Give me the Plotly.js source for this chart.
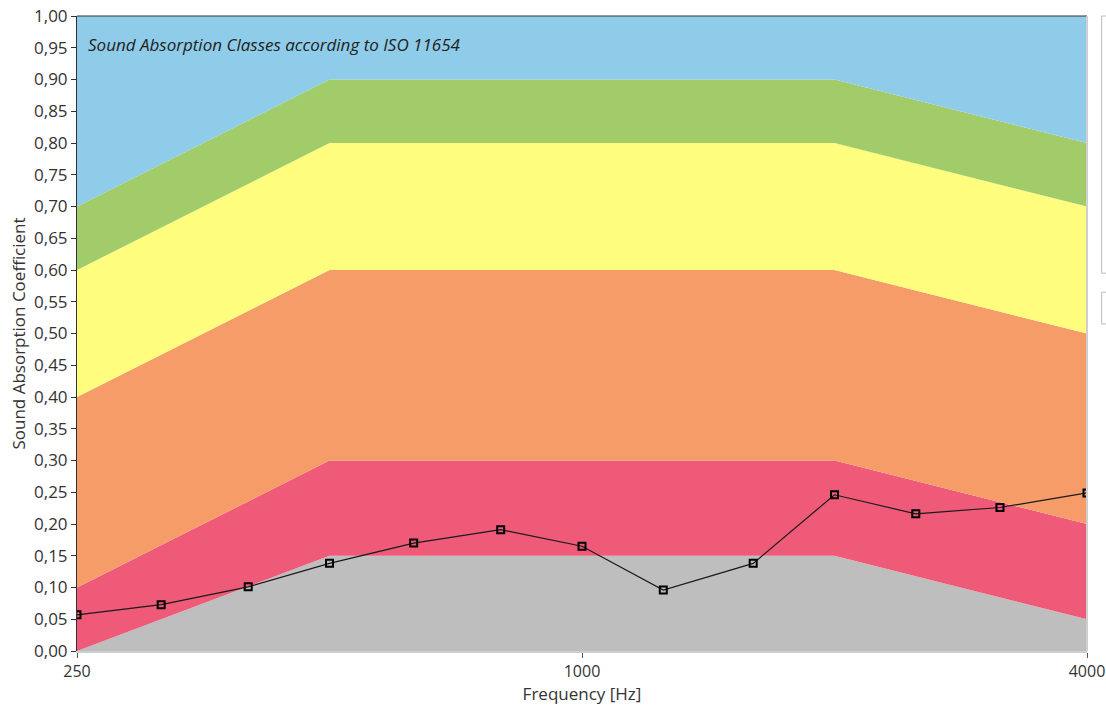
<!DOCTYPE html>
<html>
<head>
<meta charset="utf-8">
<script src="https://cdn.plot.ly/plotly-3.0.1.min.js"></script>
<style>html,body{margin:0;padding:0;background:#fff;}#chart{width:1106px;height:710px;}</style>
</head>
<body>
<div id="chart"></div>
<script>
// Class boundary frequencies (octave bands)
const classFreqs = [250, 500, 1000, 2000, 4000];
// Upper bounds of each class band
const classE_top = [0.00, 0.15, 0.15, 0.15, 0.05];   // gray
const classD_top = [0.10, 0.30, 0.30, 0.30, 0.20];   // red
const classC_top = [0.40, 0.60, 0.60, 0.60, 0.50];   // orange
const classB_top = [0.60, 0.80, 0.80, 0.80, 0.70];   // yellow
const classA_top = [0.70, 0.90, 0.90, 0.90, 0.80];   // green
const full_top   = [1.00, 1.00, 1.00, 1.00, 1.00];   // blue

// Measured values (1/3 octave)
const freqs = [250, 315, 400, 500, 630, 800, 1000, 1250, 1600, 2000, 2500, 3150, 4000];
const alpha = [0.057, 0.073, 0.101, 0.138, 0.170, 0.191, 0.165, 0.096, 0.138, 0.246, 0.216, 0.226, 0.249];

const yTickVals = [];
const yTickText = [];
for (let i = 0; i <= 20; i++) {
  const v = i * 0.05;
  yTickVals.push(v);
  yTickText.push(v.toFixed(2).replace('.', ','));
}
const xTickVals = [250, 1000, 4000];
const xTickText = ['250', '1000', '4000'];

const bands = [
  {y: classE_top, color: '#BEBEBE', fill: 'tozeroy'},
  {y: classD_top, color: '#EE5A78', fill: 'tonexty'},
  {y: classC_top, color: '#F59C69', fill: 'tonexty'},
  {y: classB_top, color: '#FEFD7D', fill: 'tonexty'},
  {y: classA_top, color: '#A2CC6A', fill: 'tonexty'},
  {y: full_top,   color: '#8FCCE9', fill: 'tonexty'}
];

const traces = bands.map(b => ({
  x: classFreqs, y: b.y, type: 'scatter', mode: 'lines',
  line: {width: 0, color: b.color}, fill: b.fill, fillcolor: b.color,
  hoverinfo: 'skip', showlegend: false
}));

traces.push({
  x: freqs, y: alpha, type: 'scatter', mode: 'lines+markers',
  line: {color: '#1a1a1a', width: 1.2},
  marker: {symbol: 'square-open', size: 7, color: '#000', line: {width: 2, color: '#000'}},
  showlegend: false
});

const FAM = 'Open Sans, Noto Sans, sans-serif';
const fnt = {family: FAM, size: 16, color: '#333'};

const layout = {
  width: 1106, height: 710,
  margin: {l: 77, r: 19, t: 16, b: 59},
  paper_bgcolor: '#fff', plot_bgcolor: '#fff',
  showlegend: false,
  font: fnt,
  xaxis: {
    type: 'log',
    range: [Math.log10(250), Math.log10(4000)],
    tickvals: xTickVals, ticktext: xTickText,
    ticks: 'outside', ticklen: 5, tickcolor: '#555',
    ticklabeloverflow: 'allow',
    showgrid: false, zeroline: false,
    showline: true, linecolor: '#cfcfcf', linewidth: 2,
    tickfont: {family: FAM, size: 16, color: '#333'},
    title: {text: 'Frequency [Hz]', font: {family: FAM, size: 17, color: '#333'}, standoff: 3}
  },
  yaxis: {
    range: [0, 1],
    tickvals: yTickVals, ticktext: yTickText,
    ticks: 'outside', ticklen: 5, tickcolor: '#333',
    showgrid: false, zeroline: false,
    showline: true, linecolor: '#333', linewidth: 1,
    tickfont: {family: FAM, size: 17, color: '#333'},
    title: {text: 'Sound Absorption Coefficient', font: {family: FAM, size: 17, color: '#333'}, standoff: 4}
  },
  shapes: [
    {type: 'line', xref: 'paper', yref: 'paper', x0: 0, x1: 1, y0: 1, y1: 1, line: {color: '#333', width: 1}},
    {type: 'line', xref: 'paper', yref: 'paper', x0: 1, x1: 1, y0: 0, y1: 1, line: {color: '#cfcfcf', width: 2}},
    {type: 'rect', xref: 'paper', yref: 'paper', x0: 1.0145, x1: 1.03, y0: 1.0, y1: 0.595, line: {color: '#bbb', width: 1}, fillcolor: 'rgba(0,0,0,0)'},
    {type: 'rect', xref: 'paper', yref: 'paper', x0: 1.0145, x1: 1.03, y0: 0.565, y1: 0.515, line: {color: '#bbb', width: 1}, fillcolor: 'rgba(0,0,0,0)'}
  ],
  annotations: [{
    xref: 'paper', yref: 'paper', x: 0.009, y: 0.955, xanchor: 'left', yanchor: 'middle',
    text: '<i>Sound Absorption Classes according to ISO 11654</i>', showarrow: false,
    font: {family: FAM, size: 17, color: '#222'}
  }]
};

Plotly.newPlot('chart', traces, layout, {displayModeBar: false, staticPlot: true});
</script>
</body>
</html>
